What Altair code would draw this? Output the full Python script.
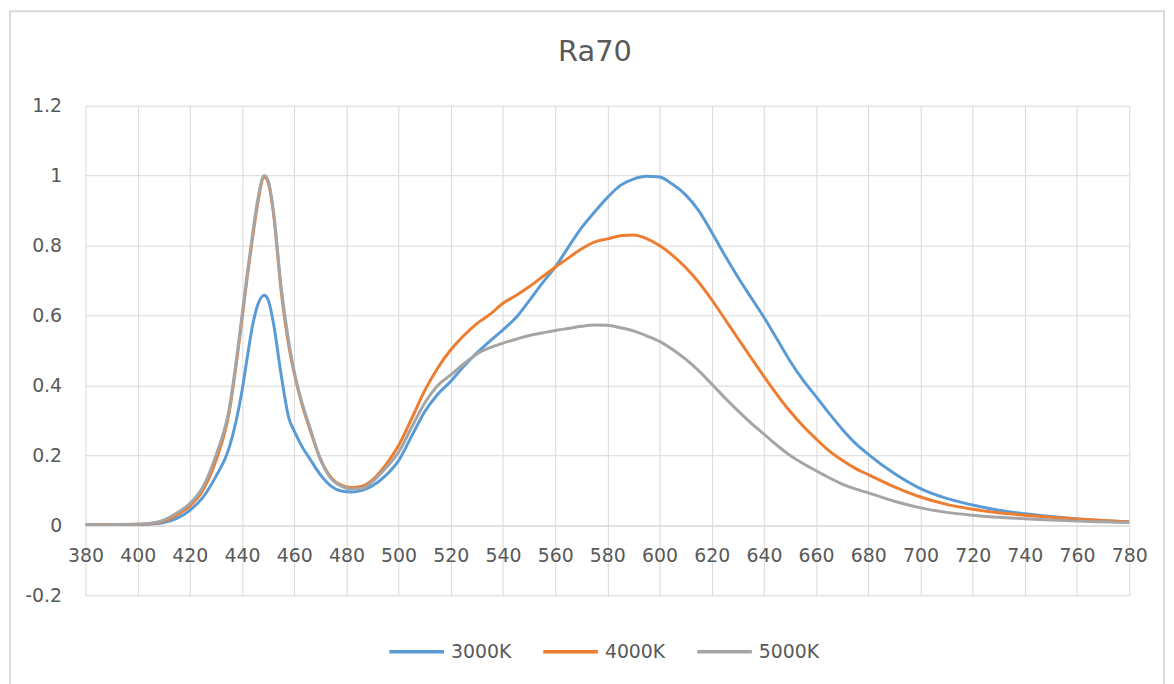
import altair as alt
import pandas as pd

wavelength = [380, 390, 400, 405, 410, 415, 420, 425, 430, 435,
              440, 442, 444, 446, 448.5, 450, 452, 455, 458, 460, 463, 466,
              470, 474, 478, 482, 486, 490, 495, 500, 505, 510,
              515, 520, 525, 530, 535, 540, 545, 550, 555, 560,
              565, 570, 575, 580, 585, 590, 595, 600, 605, 610,
              615, 620, 625, 630, 635, 640, 645, 650, 655, 660,
              665, 670, 675, 680, 690, 700, 710, 720, 730, 740,
              750, 760, 770, 780]

s3000K = [0.002, 0.002, 0.002, 0.004, 0.008, 0.02, 0.043, 0.08, 0.14, 0.22,
          0.385, 0.48, 0.57, 0.63, 0.658, 0.645, 0.58, 0.43, 0.305, 0.27, 0.225, 0.19,
          0.145, 0.113, 0.098, 0.095, 0.1, 0.113, 0.142, 0.185, 0.255, 0.325,
          0.375, 0.412, 0.455, 0.493, 0.527, 0.559, 0.594, 0.642, 0.692, 0.738,
          0.795, 0.85, 0.895, 0.937, 0.972, 0.99, 0.998, 0.996, 0.975, 0.945,
          0.9, 0.838, 0.772, 0.71, 0.652, 0.595, 0.533, 0.47, 0.415, 0.368,
          0.32, 0.275, 0.235, 0.203, 0.148, 0.105, 0.077, 0.058, 0.043, 0.033,
          0.025, 0.018, 0.013, 0.01]

s4000K = [0.002, 0.002, 0.003, 0.005, 0.012, 0.03, 0.055, 0.1, 0.185, 0.32,
          0.59, 0.71, 0.82, 0.92, 0.995, 0.98, 0.895, 0.67, 0.51, 0.435, 0.345, 0.275,
          0.19, 0.138, 0.115, 0.108, 0.112, 0.13, 0.172, 0.228, 0.305, 0.385,
          0.45, 0.502, 0.543, 0.577, 0.603, 0.635, 0.657, 0.682, 0.71, 0.738,
          0.764, 0.79, 0.81, 0.819, 0.828, 0.83, 0.82, 0.80, 0.772, 0.737,
          0.695, 0.645, 0.59, 0.535, 0.48, 0.426, 0.374, 0.326, 0.284, 0.247,
          0.213, 0.186, 0.163, 0.145, 0.11, 0.081, 0.06, 0.046, 0.036, 0.029,
          0.023, 0.018, 0.014, 0.01]

s5000K = [0.002, 0.002, 0.003, 0.006, 0.015, 0.035, 0.062, 0.11, 0.2, 0.33,
          0.6, 0.72, 0.83, 0.93, 1.0, 0.985, 0.9, 0.68, 0.52, 0.44, 0.35, 0.28,
          0.19, 0.135, 0.112, 0.104, 0.106, 0.125, 0.163, 0.209, 0.28, 0.35,
          0.40, 0.43, 0.462, 0.49, 0.508, 0.521, 0.532, 0.543, 0.55, 0.557,
          0.563, 0.569, 0.573, 0.572, 0.565, 0.556, 0.542, 0.526, 0.503, 0.475,
          0.442, 0.404, 0.365, 0.328, 0.293, 0.261, 0.229, 0.2, 0.177, 0.156,
          0.136, 0.118, 0.104, 0.093, 0.069, 0.05, 0.037, 0.029, 0.023, 0.019,
          0.015, 0.012, 0.01, 0.008]

series_names = ["3000K", "4000K", "5000K"]
series_colors = ["#5B9BD5", "#ED7D31", "#A5A5A5"]
x_ticks = list(range(380, 781, 20))
y_ticks = [-0.2, 0, 0.2, 0.4, 0.6, 0.8, 1, 1.2]
chart_title = "Ra70"

rows = []
for name, vals in zip(series_names, [s3000K, s4000K, s5000K]):
    for w, v in zip(wavelength, vals):
        rows.append({"wavelength": w, "value": v, "series": name})
df = pd.DataFrame(rows)

FONT = "DejaVu Sans"
TXT = "#595959"
GRID = "#D9D9D9"

lines = alt.Chart(df).mark_line(strokeWidth=3, interpolate="monotone", clip=True).encode(
    x=alt.X("wavelength:Q",
            scale=alt.Scale(domain=[380, 780], nice=False, zero=False),
            axis=alt.Axis(values=x_ticks, format="d", title=None, offset=-70.5,
                          labelFlush=False, labelOverlap=False, ticks=False,
                          domain=True, domainColor=GRID, domainWidth=1,
                          grid=True, gridColor=GRID, gridWidth=1,
                          labelFont=FONT, labelFontSize=19, labelColor=TXT,
                          labelPadding=21)),
    y=alt.Y("value:Q",
            scale=alt.Scale(domain=[-0.2, 1.2], nice=False, zero=False),
            axis=alt.Axis(values=y_ticks, labelExpr="'' + datum.value", title=None,
                          ticks=False, domain=False, grid=True, gridColor=GRID,
                          gridWidth=1, labelFont=FONT, labelFontSize=19,
                          labelColor=TXT, labelPadding=24, labelOverlap=False)),
    color=alt.Color("series:N",
                    scale=alt.Scale(domain=series_names, range=series_colors),
                    legend=alt.Legend(title=None, orient="none", legendX=304, legendY=520,
                                      direction="horizontal", symbolType="stroke",
                                      symbolSize=3025, symbolStrokeWidth=3.5,
                                      labelFont=FONT, labelFontSize=19, labelColor=TXT,
                                      labelOffset=5, columnPadding=25, padding=0)),
)

deco = pd.DataFrame({"label": [chart_title]})

frame = alt.Chart(deco).mark_rect(
    fill=None, stroke=GRID, strokeWidth=2, clip=False
).encode(
    x=alt.value(-76), x2=alt.value(1086), y=alt.value(-95), y2=alt.value(600)
)

title_text = alt.Chart(deco).mark_text(
    font=FONT, fontSize=29, color=TXT, align="center", baseline="middle", clip=False
).encode(
    text="label:N", x=alt.value(513), y=alt.value(-54)
)

chart = alt.layer(lines, frame, title_text).properties(
    width=1051,
    height=493,
    autosize=alt.AutoSizeParams(type="none"),
    padding={"left": 78, "top": 96, "right": 37, "bottom": 87},
).configure_view(stroke=None)

chart.save("out.html", embed_options={"renderer": "svg", "actions": False})
